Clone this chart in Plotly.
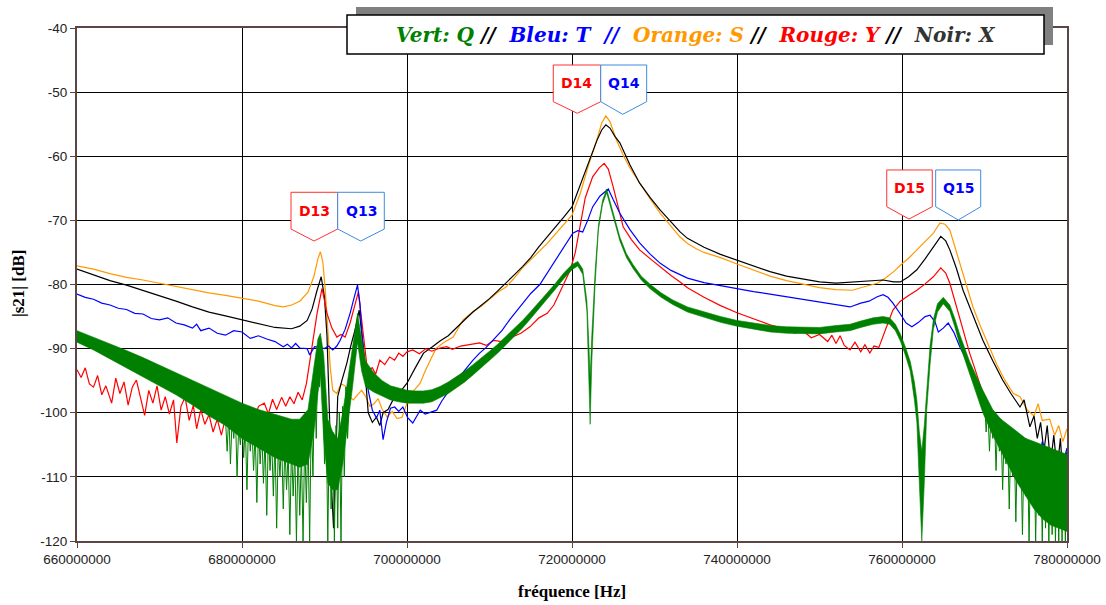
import plotly.graph_objects as go

# ---------------- data (frequencies in MHz, levels in dB) ----------------
orange_f = [660,662,664,666,668,670,672,674,676,678,680,682,684,685,686,687,688,688.7,689.2,689.5,689.8,690.1,690.4,690.7,691,691.5,692,692.5,693,693.5,694,694.5,695,695.5,696,696.5,697,697.6,698.2,698.8,699.4,700,700.8,701.6,702.2,702.8,703.5,704.5,705.6,706.8,708,709,710,711,712,713,714,715,716,717,718,719,720,721,722,723,723.6,724.1,724.6,725.4,726.2,727,728.2,729.5,730.7,732,733.1,734,735,736,737,738,740,742,744,746,748,750,752,754,755,756,757,758,759,759.8,760.8,761.8,762.8,763.8,764.6,765.2,765.8,766.4,767,767.8,768.6,769.6,770.7,771.5,772.5,773.5,774.3,775.2,776,776.5,777,777.9,778.5,779,779.5,780]
orange_v = [-77.1,-77.6,-78.3,-78.9,-79.3,-79.8,-80.3,-80.9,-81.3,-81.7,-82.1,-82.6,-83.3,-83.5,-83.2,-82.6,-81.2,-78.8,-76.0,-74.9,-76.5,-81.0,-87.0,-93.0,-96.5,-97.0,-95.5,-95.8,-97.5,-98.0,-97.2,-96.5,-97.5,-99.0,-98.6,-97.8,-99.5,-100.7,-99.8,-100.9,-100.7,-98.5,-96.6,-95.4,-93.5,-91.8,-90.0,-89.0,-88.2,-85.5,-84.2,-83.4,-82.3,-81.2,-80.4,-79.0,-77.4,-76.1,-74.9,-73.6,-72.1,-70.6,-69.2,-65.8,-61.4,-57.5,-54.8,-53.7,-54.6,-57.5,-59.8,-61.8,-64.2,-66.7,-68.9,-70.9,-72.6,-73.6,-74.4,-75.0,-75.4,-75.8,-76.8,-77.8,-78.7,-79.4,-80.0,-80.5,-80.8,-80.9,-80.5,-80.1,-79.8,-79.0,-78.0,-77.0,-75.9,-74.6,-73.3,-72.0,-70.4,-70.6,-71.5,-74.0,-76.7,-80.0,-83.5,-86.8,-90.2,-92.5,-95.0,-97.0,-97.5,-99.6,-100.5,-98.6,-101.2,-101.0,-103.5,-102.0,-104.5,-102.5]

black_f = [660,662,664,666,668,670,672,674,676,678,680,682,684,686,687,687.9,688.5,689.1,689.6,690,690.3,690.5,690.7,690.9,691.1,691.3,691.6,692.1,692.7,693.2,693.7,694.2,694.7,695,695.3,695.8,696.3,696.7,697.1,697.7,698.3,699,700,701,702,703,704,705,706,707,708,709,710,711,712,713,714,715,716,717,718,719,720,721,722,723,723.6,724.1,724.6,725.2,725.8,727,728.2,729.5,730.7,732,733.1,734,736,738,740,742,744,746,748,750,752,754,756,757.7,759,759.8,760.8,761.8,762.8,763.8,764.7,765.3,765.8,766.6,767.4,768.6,769.8,771,772.2,773.2,774.3,774.8,775.5,776,776.4,776.8,777.2,777.6,778,778.4,778.8,779.2,779.6,780]
black_v = [-77.6,-78.5,-79.4,-80.1,-80.9,-81.7,-82.6,-83.5,-84.3,-84.9,-85.5,-86.1,-86.7,-86.9,-86.5,-85.6,-83.8,-80.9,-78.8,-82.0,-88.0,-96.0,-105.0,-113.0,-118.0,-110.0,-97.5,-95.0,-92.3,-89.5,-87.1,-84.0,-89.7,-95.0,-100.0,-101.5,-100.7,-102.0,-100.0,-99.5,-98.0,-97.0,-95.4,-93.0,-90.7,-89.8,-88.8,-88.0,-86.7,-85.5,-84.3,-83.3,-82.2,-81.0,-79.8,-78.5,-77.2,-75.8,-74.1,-72.6,-71.0,-69.5,-67.9,-64.5,-60.8,-57.6,-55.9,-55.1,-55.6,-56.9,-57.9,-61.3,-64.2,-66.5,-68.4,-70.3,-71.8,-72.8,-74.2,-75.3,-76.2,-77.2,-78.0,-78.7,-79.2,-79.6,-79.8,-79.6,-79.4,-79.3,-79.6,-79.6,-78.8,-77.7,-76.0,-74.1,-72.5,-73.2,-74.6,-77.5,-80.9,-84.8,-88.7,-91.9,-94.9,-97.0,-99.1,-98.0,-102.2,-100.5,-104.0,-101.5,-106.0,-102.0,-108.0,-103.5,-109.0,-104.0,-112.0,-106.0]

blue_f = [660,661,662,663,664,665,666,667,668,669,670,671,672,673,674,674.5,675,676,677,678,679,680,681,682,683,684,685,685.5,686,686.5,687,687.9,688.2,688.8,689.4,690,690.5,691,691.5,691.9,692.5,693.1,693.6,694,694.3,694.5,694.9,695.3,695.8,696.3,696.7,697.1,697.5,698,698.5,699,699.5,700.1,700.7,701.2,701.6,702.2,703,703.6,704.2,704.8,705.5,706.3,707.3,708,708.8,709.6,710.4,711.5,712.5,713.7,715,716.1,717,718.5,719.3,720.1,720.7,721.3,721.9,722.5,723.4,724.4,725,725.8,727,728.2,729.5,730.7,732,733.1,734,736,738,740,742,744,746,748,750,752,753.7,755,756,757,757.7,758.3,758.9,759.8,760.5,761.2,762,762.8,763.4,764,764.4,765,765.6,766.3,767,767.8,768.6,769.4,770.3,771,771.9,772.5,773,773.5,774,774.5,775,775.5,776,776.5,777,777.5,778,778.5,779,779.5,780]
blue_v = [-81.5,-82.0,-82.3,-82.9,-83.2,-83.7,-83.9,-84.5,-84.6,-85.3,-85.5,-85.2,-86.0,-86.3,-86.8,-86.2,-87.2,-86.8,-87.6,-87.9,-87.2,-87.4,-88.4,-88.0,-88.5,-88.9,-89.7,-89.3,-89.9,-89.2,-89.9,-90.0,-91.0,-89.7,-89.8,-90.0,-89.6,-90.2,-89.6,-88.7,-87.0,-84.5,-82.0,-80.1,-83.0,-87.1,-92.9,-96.5,-99.6,-100.8,-99.6,-104.2,-101.5,-99.3,-99.1,-99.8,-99.1,-100.8,-101.6,-100.5,-99.6,-100.2,-99.8,-99.6,-98.2,-97.0,-95.8,-94.5,-92.9,-91.8,-90.7,-89.8,-88.7,-87.2,-85.4,-83.5,-81.4,-80.0,-78.2,-75.1,-73.5,-72.0,-71.6,-71.8,-70.0,-67.9,-66.2,-65.1,-66.8,-68.9,-71.4,-73.5,-75.3,-76.7,-77.8,-78.5,-79.0,-79.7,-80.2,-80.6,-81.1,-81.5,-81.9,-82.3,-82.8,-83.2,-83.5,-82.9,-82.6,-81.9,-81.6,-82.0,-82.9,-84.6,-86.0,-86.6,-85.9,-85.0,-84.8,-85.8,-87.4,-86.8,-86.0,-87.5,-89.7,-91.7,-93.8,-96.5,-99.1,-101.5,-103.2,-105.0,-103.5,-106.5,-104.5,-107.5,-105.0,-108.0,-105.5,-108.5,-104.5,-107.0,-105.5,-109.0,-106.0,-108.0,-105.5]

red_f = [660,660.5,661,661.5,662,662.5,663,663.5,664.2,664.7,665.2,665.7,666.2,666.7,667.2,667.7,668.2,668.7,669.2,669.7,670.2,670.7,671.2,671.7,672.1,672.6,673.1,673.6,674.1,674.5,675,675.5,676,676.5,677,677.5,678,678.5,679,679.5,680,680.5,681,681.5,682,682.7,683.2,683.7,684.2,684.8,685.3,685.8,686.3,686.8,687.3,687.8,688.2,688.6,689.1,689.7,690.3,690.9,691.5,692,692.5,693.1,693.6,694.1,694.5,694.9,695.2,695.8,696.2,696.7,697.3,697.9,698.5,699,699.5,700,700.7,701.5,702.3,703,704,704.8,705.5,706.5,707.5,708.8,709.6,710.5,711.5,712.8,713.8,714.9,716,717,717.8,718.5,719.2,719.8,720.4,721,721.6,722.5,723.3,723.9,724.4,725,725.6,726.2,727.2,728.2,729.5,730.7,732,733.1,734,736,738,740,742,744,746,747,748,749,750,751,751.5,752,752.5,753,753.7,754.3,755,755.5,756.1,756.6,757.2,757.7,758.3,758.9,759.8,760.8,761.8,762.8,763.8,764.7,765.3,765.8,766.4,767,767.6,768.2,768.8,769.4,770,770.7,771.3,772,772.5,773,773.5,774,774.5,775,775.5,776,776.5,777,777.5,778,778.5,779,779.5,780]
red_v = [-93.3,-94.5,-93.0,-95.5,-96.0,-94.2,-97.2,-95.8,-98.5,-94.6,-97.0,-95.2,-98.8,-96.0,-94.9,-97.8,-100.4,-96.5,-98.5,-95.8,-99.6,-97.5,-100.2,-98.0,-104.7,-99.0,-97.6,-101.2,-98.8,-102.5,-99.5,-101.8,-100.3,-103.0,-101.0,-103.5,-100.8,-102.6,-99.8,-101.5,-100.6,-102.2,-99.5,-101.0,-99.0,-98.5,-100.2,-97.9,-99.5,-97.6,-99.0,-97.5,-98.6,-96.8,-98.0,-95.5,-92.3,-88.5,-84.5,-80.6,-84.5,-86.8,-88.2,-87.8,-88.2,-86.0,-83.5,-81.2,-85.5,-90.0,-93.3,-93.0,-94.0,-91.8,-92.5,-91.3,-91.8,-90.7,-91.2,-90.5,-90.2,-90.8,-90.0,-90.4,-89.9,-89.7,-90.1,-89.6,-89.4,-89.1,-89.5,-88.7,-88.9,-88.2,-87.6,-86.6,-85.2,-84.5,-83.2,-81.3,-79.5,-77.7,-75.0,-70.5,-66.5,-63.2,-61.8,-61.1,-62.0,-64.8,-68.0,-71.0,-73.0,-74.6,-76.0,-77.3,-78.6,-79.6,-80.5,-82.0,-83.3,-84.4,-85.4,-86.3,-87.0,-87.6,-87.2,-88.3,-87.8,-88.9,-87.9,-89.2,-88.0,-89.5,-90.2,-89.0,-90.5,-89.4,-90.7,-89.6,-89.8,-88.2,-86.0,-84.0,-82.6,-81.7,-80.9,-79.9,-78.8,-77.4,-78.2,-79.8,-82.5,-85.5,-88.0,-90.7,-93.0,-95.4,-97.8,-100.0,-102.0,-101.0,-104.5,-102.5,-106.0,-103.5,-107.0,-104.0,-108.0,-105.5,-109.0,-106.0,-110.0,-107.0,-109.5,-106.5,-110.0,-108.0]

# green trace: upper and lower edge of its dense noise band
green_f  = [660,662,664,666,668,670,672,674,676,678,680,682,684,686,687,688,688.7,689.2,689.5,689.9,690.4,691,691.6,692.2,692.8,693.4,694,694.5,695,696,697,698,699,700,701,702,703,704,705,706,707,708,709,710,711,712,713,714,715,716,717,718,719,720,720.7,721.3,721.8,722.0,722.2,722.4,722.6,722.8,723.2,723.7,724.2,724.8,725.3,725.8,726.6,727.4,728.4,729.5,730.8,732.2,734,736,738,740,742,744,746,748,750,752,753.7,755,756.5,757.7,758.5,759.2,759.8,760.4,761,761.5,761.8,762.1,762.4,762.7,763.0,763.4,763.8,764.3,765,765.8,766.4,767,768.2,769.8,771,772,773,774,775,776,777,778,779,780]
green_hi = [-87.2,-88.2,-89.2,-90.3,-91.4,-92.6,-93.8,-95.0,-96.2,-97.4,-98.5,-99.5,-100.2,-101.0,-101.0,-99.5,-93.0,-88.5,-87.6,-91.0,-101.0,-103.0,-104.0,-100.0,-95.0,-89.5,-84.5,-88.5,-92.0,-93.8,-95.0,-95.8,-96.2,-96.5,-96.6,-96.6,-96.4,-95.9,-95.2,-94.4,-93.5,-92.5,-91.5,-90.4,-89.3,-88.1,-86.9,-85.6,-84.2,-82.8,-81.3,-79.8,-78.2,-76.9,-76.4,-77.6,-82.5,-88.0,-94.5,-88.0,-82.0,-78.0,-70.8,-66.9,-65.1,-67.9,-70.6,-72.6,-75.2,-76.9,-78.7,-80.0,-81.3,-82.4,-83.5,-84.3,-85.0,-85.6,-86.0,-86.4,-86.6,-86.7,-86.7,-86.4,-86.2,-85.7,-85.2,-85.0,-85.2,-86.2,-87.7,-89.7,-92.0,-95.2,-98.0,-103.0,-106.0,-102.0,-96.0,-89.5,-85.5,-83.0,-82.0,-83.2,-85.3,-87.8,-92.0,-96.5,-99.5,-101.0,-102.0,-103.0,-104.0,-104.5,-105.0,-105.5,-106.0,-106.5]
green_lo = [-89.0,-90.2,-91.6,-93.0,-94.3,-95.8,-97.2,-98.8,-100.5,-102.0,-104.0,-105.5,-107.0,-108.0,-108.5,-108.0,-103.0,-97.0,-94.0,-104.0,-111.0,-112.0,-112.0,-108.0,-102.0,-96.0,-89.0,-93.5,-96.0,-96.8,-97.4,-98.0,-98.3,-98.5,-98.5,-98.5,-98.3,-97.7,-97.0,-96.1,-95.2,-94.1,-93.0,-91.9,-90.7,-89.4,-88.1,-86.8,-85.3,-83.8,-82.3,-80.7,-79.1,-77.7,-77.1,-78.4,-84.0,-91.5,-101.8,-92.0,-85.0,-80.0,-71.5,-67.5,-65.7,-68.5,-71.2,-73.2,-75.8,-77.5,-79.3,-80.7,-82.0,-83.1,-84.3,-85.1,-85.9,-86.5,-87.0,-87.4,-87.6,-87.7,-87.7,-87.4,-87.2,-86.7,-86.2,-86.0,-86.2,-87.2,-88.8,-91.0,-93.5,-98.0,-101.5,-111.0,-120.0,-111.0,-99.5,-92.5,-87.0,-84.3,-83.0,-84.2,-86.6,-89.4,-94.0,-100.0,-103.5,-106.0,-108.5,-111.0,-113.0,-115.0,-116.5,-117.5,-118.0,-118.5]

# dense noise of the green trace in its noisiest stretches
green_noise_f = [678.0,678.2,678.4,678.6,678.8,679.0,679.2,679.4,679.6,679.8,680.0,680.2,680.4,680.6,680.8,681.0,681.2,681.4,681.6,681.8,682.0,682.2,682.4,682.6,682.8,683.0,683.2,683.4,683.6,683.8,684.0,684.2,684.4,684.6,684.8,685.0,685.2,685.4,685.6,685.8,686.0,686.2,686.4,686.6,686.8,687.0,687.2,687.4,687.6,687.8,688.0,688.2,688.4,688.6,688.8,689.0,689.2,689.4,689.6,689.8,690.0,690.2,690.4,690.6,690.8,691.0,691.2,691.4,691.6,691.8,692.0,692.2,692.4,692.6,692.8,693.0]
green_noise_v = [-101,-106,-100,-108,-101,-104,-100,-110,-102,-105,-101,-107,-102,-112,-101,-106,-102,-109,-103,-114,-102,-108,-103,-111,-104,-116,-103,-109,-104,-113,-104,-118,-105,-110,-104,-115,-105,-112,-106,-119,-105,-113,-106,-120,-105,-116,-106,-120,-104,-114,-103,-120,-100,-110,-95,-104,-90,-96,-89,-95,-108,-100,-120,-101,-115,-103,-120,-102,-118,-100,-120,-99,-110,-96,-104,-98]
green_noise2_f = [770.0,770.2,770.4,770.6,770.8,771.0,771.2,771.4,771.6,771.8,772.0,772.2,772.4,772.6,772.8,773.0,773.2,773.4,773.6,773.8,774.0,774.2,774.4,774.6,774.8,775.0,775.2,775.4,775.6,775.8,776.0,776.2,776.4,776.6,776.8,777.0,777.2,777.4,777.6,777.8,778.0,778.2,778.4,778.6,778.8,779.0,779.2,779.4,779.6,779.8,780.0]
green_noise2_v = [-98,-103,-99,-106,-100,-104,-100,-109,-101,-106,-102,-112,-102,-108,-103,-115,-103,-110,-104,-117,-104,-111,-105,-119,-105,-113,-105,-120,-106,-114,-105,-120,-106,-116,-106,-120,-107,-118,-106,-120,-107,-119,-107,-120,-108,-120,-107,-120,-108,-120,-109]

x_ticks = [660000000, 680000000, 700000000, 720000000, 740000000, 760000000, 780000000]
x_tick_labels = ["660000000", "680000000", "700000000", "720000000", "740000000", "760000000", "780000000"]
y_ticks = [-40, -50, -60, -70, -80, -90, -100, -110, -120]
y_tick_labels = ["-40", "-50", "-60", "-70", "-80", "-90", "-100", "-110", "-120"]

# callout labels: (text, left MHz, right MHz, tip MHz, top dB, shoulder dB, tip dB, kind)
callouts = [
    ("D13", 685.94, 691.60, 688.73, -65.62, -71.35, -73.22, "D"),
    ("Q13", 691.60, 697.25, 694.39, -65.62, -71.35, -73.22, "Q"),
    ("D14", 717.73, 723.48, 720.64, -45.77, -51.49, -53.30, "D"),
    ("Q14", 723.48, 729.05, 726.15, -45.77, -51.49, -53.46, "Q"),
    ("D15", 758.15, 763.67, 760.85, -62.14, -67.87, -69.79, "D"),
    ("Q15", 764.08, 769.54, 766.82, -62.14, -67.87, -69.94, "Q"),
]

def hz(lst):
    return [f * 1e6 for f in lst]

fig = go.Figure()
LW = 1.2
fig.add_trace(go.Scatter(x=hz(orange_f), y=orange_v, mode="lines", line=dict(color="#ff9900", width=LW), name="S"))
fig.add_trace(go.Scatter(x=hz(black_f), y=black_v, mode="lines", line=dict(color="#000000", width=LW), name="X"))
fig.add_trace(go.Scatter(x=hz(red_f), y=red_v, mode="lines", line=dict(color="#ff0000", width=LW), name="Y"))
fig.add_trace(go.Scatter(x=hz(blue_f), y=blue_v, mode="lines", line=dict(color="#0000ff", width=LW), name="T"))
GREEN = "#008000"
fig.add_trace(go.Scatter(x=hz(green_f), y=green_lo, mode="lines", line=dict(color=GREEN, width=0.6), name="Q"))
fig.add_trace(go.Scatter(x=hz(green_f), y=green_hi, mode="lines", line=dict(color=GREEN, width=0.6),
                         fill="tonexty", fillcolor=GREEN, name="Q"))
fig.add_trace(go.Scatter(x=hz(green_noise_f), y=green_noise_v, mode="lines", line=dict(color=GREEN, width=1), name="Q"))
fig.add_trace(go.Scatter(x=hz(green_noise2_f), y=green_noise2_v, mode="lines", line=dict(color=GREEN, width=1), name="Q"))

# ---------------- layout ----------------
W, H = 1106, 605
L, R, T, B = 77, 1067, 28, 541

def px(xp):
    return (xp - L) / (R - L)

def py(yp):
    return (B - yp) / (B - T)

shapes = []
annotations = []
for text, x0, x1, xt, ytop, ysh, ytip, kind in callouts:
    edge = "#ff3030" if kind == "D" else "#3c8ce0"
    tcol = "#ff0000" if kind == "D" else "#0000ff"
    path = (f"M {x0*1e6},{ytop} L {x1*1e6},{ytop} L {x1*1e6},{ysh} "
            f"L {xt*1e6},{ytip} L {x0*1e6},{ysh} Z")
    shapes.append(dict(type="path", path=path, xref="x", yref="y", fillcolor="white",
                       line=dict(color=edge, width=1), layer="above"))
    annotations.append(dict(x=(x0 + x1) / 2 * 1e6, y=(ytop + ysh) / 2, xref="x", yref="y",
                            text=f"<b>{text}</b>", showarrow=False,
                            font=dict(family="DejaVu Sans", size=14, color=tcol),
                            xanchor="center", yanchor="middle"))

# legend box with shadow
shapes.append(dict(type="rect", xref="paper", yref="paper", x0=px(356), x1=px(1053), y0=py(45), y1=py(7),
                   fillcolor="#808080", line=dict(width=0), layer="above"))
shapes.append(dict(type="rect", xref="paper", yref="paper", x0=px(347), x1=px(1044), y0=py(54), y1=py(15),
                   fillcolor="white", line=dict(color="black", width=1.5), layer="above"))
legend_text = ("<b><i>"
               "<span style='color:#008000'>Vert: Q</span> <span style='color:#000000'>//</span>  "
               "<span style='color:#0000ff'>Bleu: T</span>  <span style='color:#0000ff'>//</span>  "
               "<span style='color:#ff9900'>Orange: S</span> <span style='color:#000000'>//</span>  "
               "<span style='color:#ff0000'>Rouge: Y</span> <span style='color:#000000'>//</span>  "
               "<span style='color:#333333'>Noir: X</span>"
               "</i></b>")
annotations.append(dict(x=px(696), y=py(35), xref="paper", yref="paper", text=legend_text,
                        showarrow=False, xanchor="center", yanchor="middle",
                        font=dict(family="DejaVu Serif", size=20, color="black")))

# axis titles
annotations.append(dict(x=px(572), y=py(591), xref="paper", yref="paper", text="<b>fréquence [Hz]</b>",
                        showarrow=False, xanchor="center", yanchor="middle",
                        font=dict(family="Liberation Serif", size=17, color="black")))
annotations.append(dict(x=px(18), y=py(284), xref="paper", yref="paper", text="<b>|s21| [dB]</b>",
                        showarrow=False, xanchor="center", yanchor="middle", textangle=-90,
                        font=dict(family="Liberation Serif", size=17, color="black")))

AX = "#5a4646"
fig.update_layout(
    width=W, height=H,
    margin=dict(l=L, r=W - R, t=T, b=H - B, pad=0, autoexpand=False),
    paper_bgcolor="white", plot_bgcolor="white",
    showlegend=False,
    shapes=shapes, annotations=annotations,
    xaxis=dict(range=[660e6, 780e6], tickvals=x_ticks, ticktext=x_tick_labels, automargin=False,
               showgrid=True, gridcolor="black", gridwidth=1, zeroline=False,
               showline=True, linecolor=AX, linewidth=2, mirror=True,
               ticks="outside", ticklen=5, tickcolor=AX,
               tickfont=dict(family="Liberation Sans", size=13.5, color="#222222")),
    yaxis=dict(range=[-120, -40], tickvals=y_ticks, ticktext=y_tick_labels, automargin=False,
               showgrid=True, gridcolor="black", gridwidth=1, zeroline=False,
               showline=True, linecolor=AX, linewidth=2, mirror=True,
               ticks="outside", ticklen=5, tickcolor=AX,
               tickfont=dict(family="Liberation Sans", size=13.5, color="#222222")),
)

fig.write_html("out.html")
